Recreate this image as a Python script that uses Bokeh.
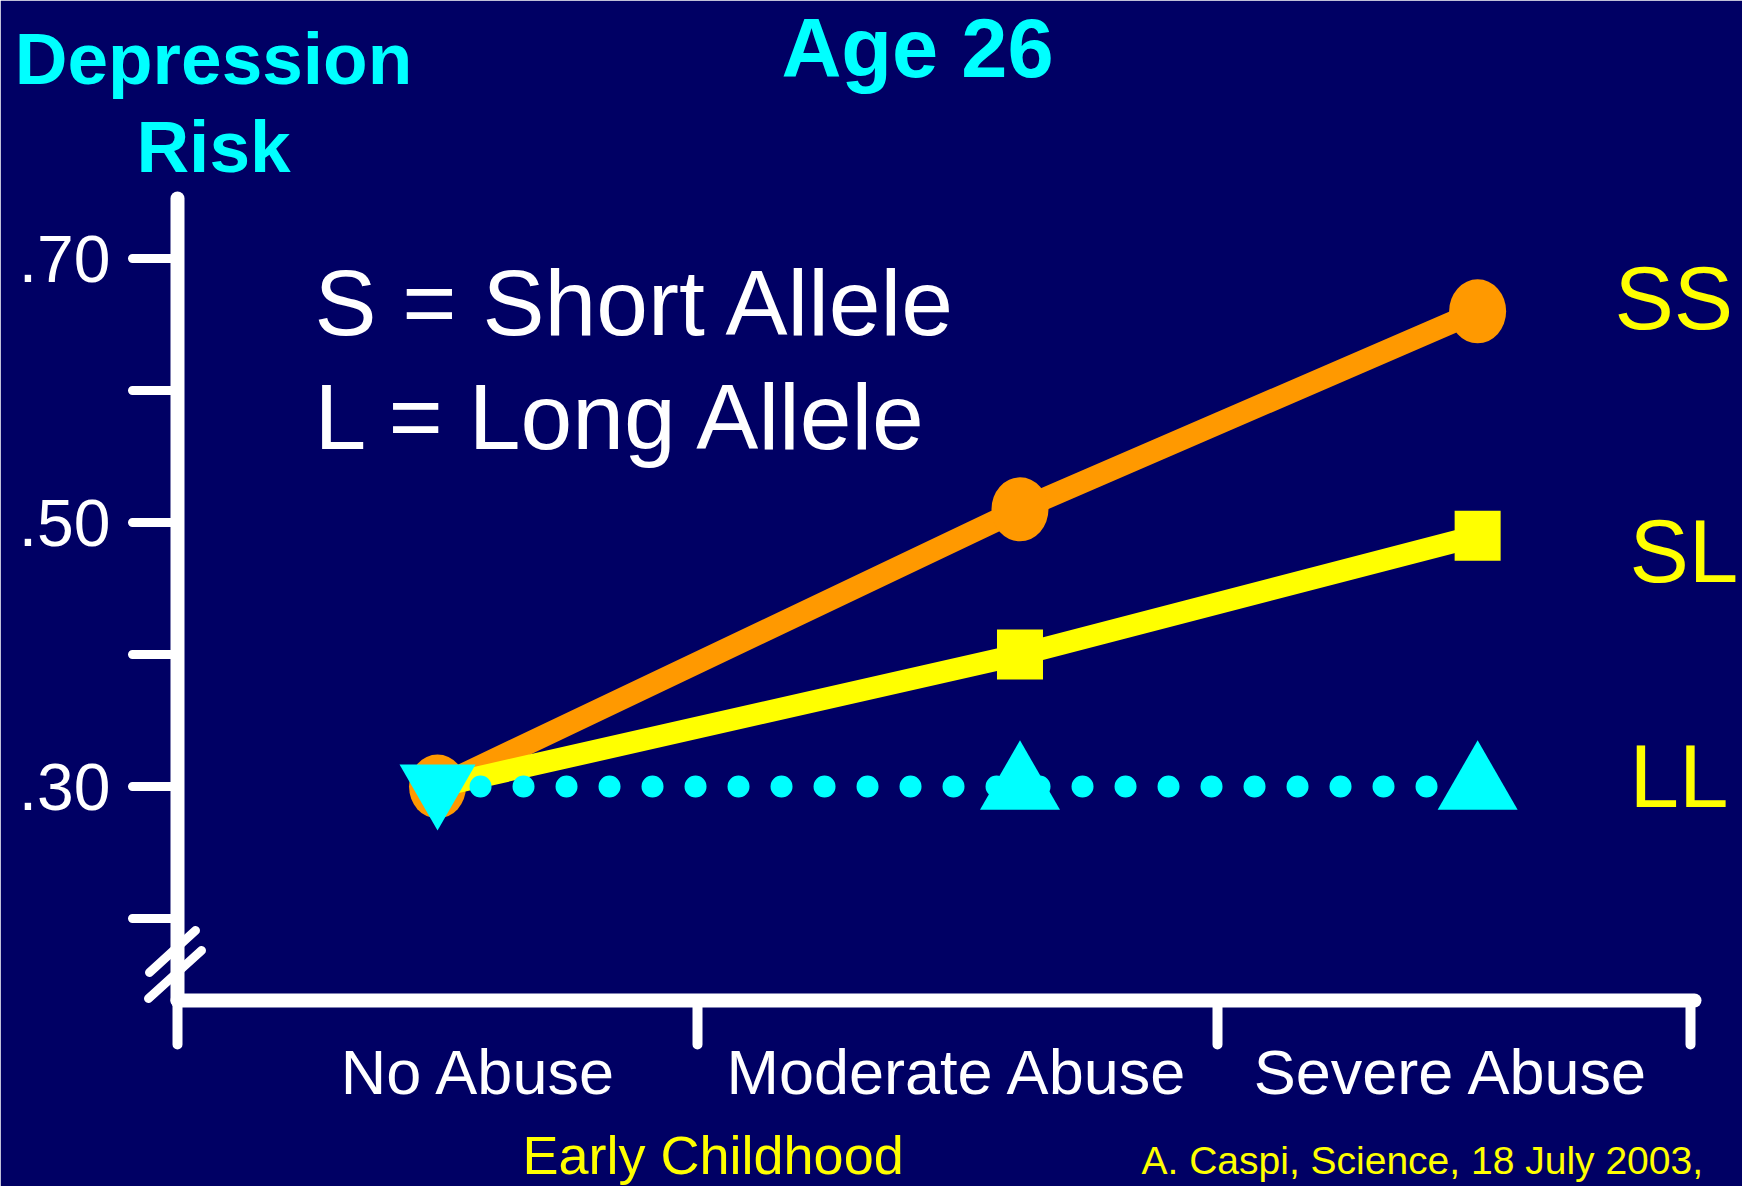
from bokeh.plotting import figure
from bokeh.models import FixedTicker, Range1d
from bokeh.core.properties import value
from bokeh.embed import file_html
from bokeh.resources import INLINE

# ---------------- data ----------------
categories = ["No Abuse", "Moderate Abuse", "Severe Abuse"]
cat_x = [0.5, 1.62, 2.5]            # x position of each category's points
cat_label_x = [0.58, 1.5, 2.45]     # where the category names sit
cat_bounds = [0, 1, 2, 2.91]        # tick marks between categories
ss = [0.30, 0.51, 0.66]             # SS genotype
sl = [0.30, 0.40, 0.49]             # SL genotype
ll = [0.30, 0.30, 0.30]             # LL genotype
y_ticks = [0.2, 0.3, 0.4, 0.5, 0.6, 0.7]
y_tick_labels = ["", ".30", "", ".50", "", ".70"]

# ---------------- style ----------------
NAVY = "#000064"
ORANGE = "#FF9900"
YELLOW = "#FFFF00"
CYAN = "#00FFFF"
WHITE = "#FFFFFF"
FONT = "Liberation Sans"

W, H = 1742, 1186
BL, BR, BT, BB = 177, 48, 198, 186
X0, X1 = 0.0, 2.917
Y0, Y1 = 0.1379, 0.7455
FW, FH = W - BL - BR, H - BT - BB


def dx(px):
    return X0 + (px - BL) / FW * (X1 - X0)


def dy(py):
    return Y1 - (py - BT) / FH * (Y1 - Y0)


p = figure(width=W, height=H, output_backend="svg", toolbar_location=None,
           x_range=Range1d(X0, X1), y_range=Range1d(Y0, Y1),
           min_border_left=BL, min_border_right=BR,
           min_border_top=BT, min_border_bottom=BB)
p.background_fill_color = NAVY
p.border_fill_color = NAVY
p.outline_line_color = NAVY
p.outline_line_width = 3
p.xgrid.visible = False
p.ygrid.visible = False

# y axis
ya = p.yaxis[0]
ya.ticker = FixedTicker(ticks=y_ticks)
ya.major_label_overrides = {t: l for t, l in zip(y_ticks, y_tick_labels)}
ya.axis_line_color = WHITE
ya.axis_line_width = 14
ya.axis_line_cap = "round"
ya.major_tick_line_color = WHITE
ya.major_tick_line_width = 9
ya.major_tick_line_cap = "round"
ya.major_tick_out = 45
ya.major_tick_in = 0
ya.minor_tick_line_color = None
ya.major_label_text_color = WHITE
ya.major_label_text_font = FONT
ya.major_label_text_font_size = "66px"
ya.major_label_standoff = 22

# x axis
xa = p.xaxis[0]
xa.ticker = FixedTicker(ticks=cat_label_x, minor_ticks=cat_bounds)
xa.major_label_overrides = {t: c for t, c in zip(cat_label_x, categories)}
xa.axis_line_color = WHITE
xa.axis_line_width = 14
xa.axis_line_cap = "round"
xa.major_tick_out = 0
xa.major_tick_in = 0
xa.major_tick_line_color = None
xa.minor_tick_line_color = WHITE
xa.minor_tick_line_width = 10
xa.minor_tick_line_cap = "round"
xa.minor_tick_out = 44
xa.minor_tick_in = 0
xa.major_label_text_color = WHITE
xa.major_label_text_font = FONT
xa.major_label_text_font_size = "63px"
xa.major_label_standoff = -8

# axis break marks
brk = p.segment(x0=[dx(149), dx(148)], y0=[dy(972), dy(998)],
                x1=[dx(195), dx(201)], y1=[dy(930), dy(950)],
                line_color=WHITE, line_width=9, line_cap="round")
brk.level = "overlay"

# SS
p.line(cat_x, ss, line_color=ORANGE, line_width=22)
p.ellipse(x=cat_x, y=ss, width=57, height=64, width_units="screen",
          height_units="screen", fill_color=ORANGE, line_color=None)
# SL
p.line(cat_x, sl, line_color=YELLOW, line_width=22)
p.rect(x=cat_x[1:], y=sl[1:], width=46, height=50, width_units="screen",
       height_units="screen", fill_color=YELLOW, line_color=None)
# LL
p.line(cat_x, ll, line_color=CYAN, line_width=22, line_dash="0 43",
       line_cap="round")
p.scatter(x=cat_x[:1], y=ll[:1], marker="inverted_triangle", size=76,
          fill_color=CYAN, line_color=None)
p.scatter(x=cat_x[1:], y=ll[1:], marker="triangle", size=80,
          fill_color=CYAN, line_color=None)


def lab(px, py, text, color, size, bold=False, align="left"):
    # py is the wanted baseline (px from top); the glyph renders ~0.36em lower
    r = p.text(x=[dx(px)], y=[dy(py - 0.36 * size)], text=[text],
               text_color=color, text_font=value(FONT),
               text_font_size=value(f"{size}px"),
               text_font_style="bold" if bold else "normal",
               text_align=align, text_baseline="alphabetic")
    r.level = "overlay"


lab(917, 78, "Age 26", CYAN, 83, bold=True, align="center")
lab(213, 84, "Depression", CYAN, 73, bold=True, align="center")
lab(213, 172, "Risk", CYAN, 73, bold=True, align="center")
lab(314, 336, "S = Short Allele", WHITE, 93)
lab(314, 450, "L = Long Allele", WHITE, 93)
lab(1614, 330, "SS", YELLOW, 89)
lab(1629, 583, "SL", YELLOW, 89)
lab(1629, 808, "LL", YELLOW, 89)
lab(522, 1174, "Early Childhood", YELLOW, 54)
lab(1141, 1174, "A. Caspi, Science, 18 July 2003,", YELLOW, 39)

open("out.html", "w").write(file_html(p, INLINE))
